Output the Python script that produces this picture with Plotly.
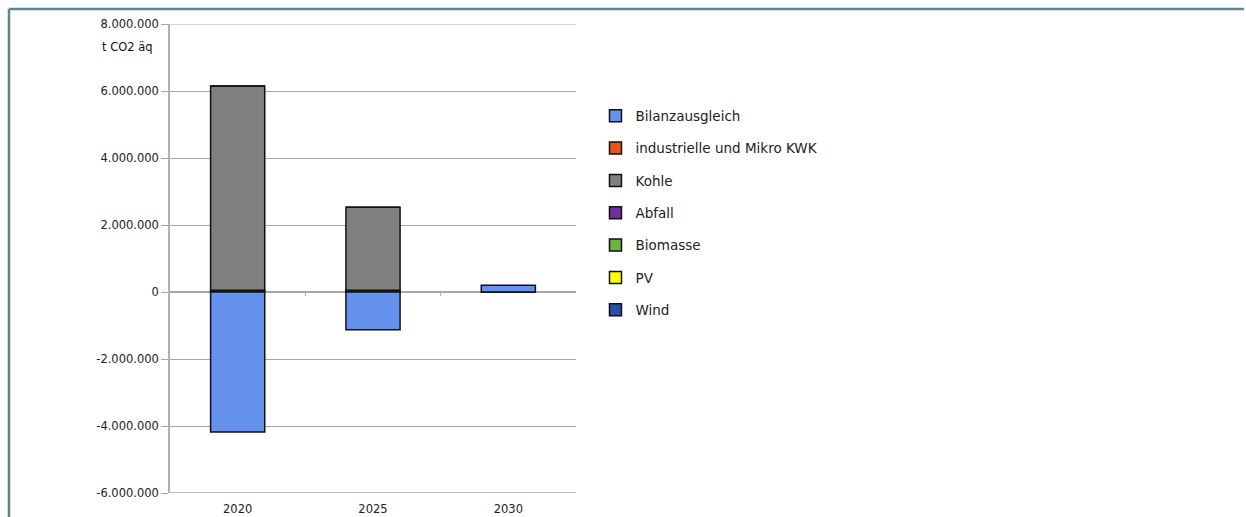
import plotly.graph_objects as go

# Years on the category axis
years = ["2020", "2025", "2030"]

# Emission balance per source, t CO2 äq
bilanzausgleich = [-4180000, -1130000, 200000]
industrielle_kwk = [0, 0, 0]
kohle = [6100000, 2480000, 0]
abfall = [50000, 50000, 0]
biomasse = [0, 0, 0]
pv = [0, 0, 0]
wind = [0, 0, 0]

# Y axis ticks
y_tickvals = [-6000000, -4000000, -2000000, 0, 2000000, 4000000, 6000000, 8000000]
y_ticktext = ["-6.000.000", "-4.000.000", "-2.000.000", "0",
              "2.000.000", "4.000.000", "6.000.000", "8.000.000"]

# Stack order from bottom to top
series = [
    ("Wind", wind, "#2a4fa8"),
    ("PV", pv, "#ffff00"),
    ("Biomasse", biomasse, "#6db33f"),
    ("Abfall", abfall, "#7030a0"),
    ("Kohle", kohle, "#808080"),
    ("industrielle und Mikro KWK", industrielle_kwk, "#e8541c"),
    ("Bilanzausgleich", bilanzausgleich, "#6592ec"),
]

fig = go.Figure()
n = len(series)
for i, (name, vals, col) in enumerate(series):
    fig.add_trace(go.Bar(
        x=years, y=vals, name=name, legendgroup=name,
        legendrank=n - i,
        marker=dict(color=col, line=dict(color="#111111", width=1.5)),
        width=0.4,
    ))

font_family = "DejaVu Sans"
grid_col = "#a6a6a6"
frame_col = "#5b8690"

fig.update_layout(
    width=1246, height=517,
    barmode="relative",
    paper_bgcolor="white", plot_bgcolor="white",
    margin=dict(l=170, r=670, t=24, b=24, autoexpand=False),
    separators=",.",
    showlegend=True,
    legend=dict(
        traceorder="grouped",
        x=1.048, y=0.837, xanchor="left", yanchor="top",
        font=dict(family=font_family, size=13.5, color="#222222"),
        tracegroupgap=11.8,
        itemwidth=30,
        bgcolor="rgba(0,0,0,0)",
    ),
    xaxis=dict(
        type="category", range=[-0.5, 2.5],
        showgrid=False, showline=False, zeroline=False,
        ticks="", ticklabelstandoff=7, automargin=False,
        tickfont=dict(family=font_family, size=11.5, color="#222222"),
        fixedrange=True,
    ),
    yaxis=dict(
        range=[-6000000, 8000000],
        tickvals=y_tickvals, ticktext=y_ticktext,
        showgrid=True, gridcolor=grid_col, gridwidth=1,
        zeroline=True, zerolinecolor=grid_col, zerolinewidth=1.5,
        showline=True, linecolor="#b0b0b0", linewidth=1.5,
        ticks="outside", ticklen=7, tickcolor=grid_col,
        tickfont=dict(family=font_family, size=11.5, color="#222222"),
        automargin=False,
        fixedrange=True,
    ),
    annotations=[dict(
        text="t CO2 äq", xref="paper", yref="paper",
        x=-0.037, y=0.952, xanchor="right", yanchor="middle",
        showarrow=False,
        font=dict(family=font_family, size=11.5, color="#111111"),
    )],
    shapes=[
        # gridlines at the range edges
        dict(type="line", xref="paper", yref="y", x0=0, x1=1, y0=8000000, y1=8000000,
             line=dict(color=grid_col, width=1)),
        dict(type="line", xref="paper", yref="y", x0=0, x1=1, y0=-6000000, y1=-6000000,
             line=dict(color=grid_col, width=1.5)),
        # small category separators on the zero line
        dict(type="line", xref="x", yref="y", x0=0.5, x1=0.5, y0=0, y1=-120000,
             line=dict(color=grid_col, width=1)),
        dict(type="line", xref="x", yref="y", x0=1.5, x1=1.5, y0=0, y1=-120000,
             line=dict(color=grid_col, width=1)),
        # outer frame (top and left)
        dict(type="line", xref="paper", yref="paper",
             x0=-0.3966, x1=2.645, y0=1.032, y1=1.032,
             line=dict(color=frame_col, width=2.5)),
        dict(type="line", xref="paper", yref="paper",
             x0=-0.3966, x1=-0.3966, y0=1.032, y1=-0.06,
             line=dict(color=frame_col, width=2.5)),
    ],
)

fig.write_html("out.html")
